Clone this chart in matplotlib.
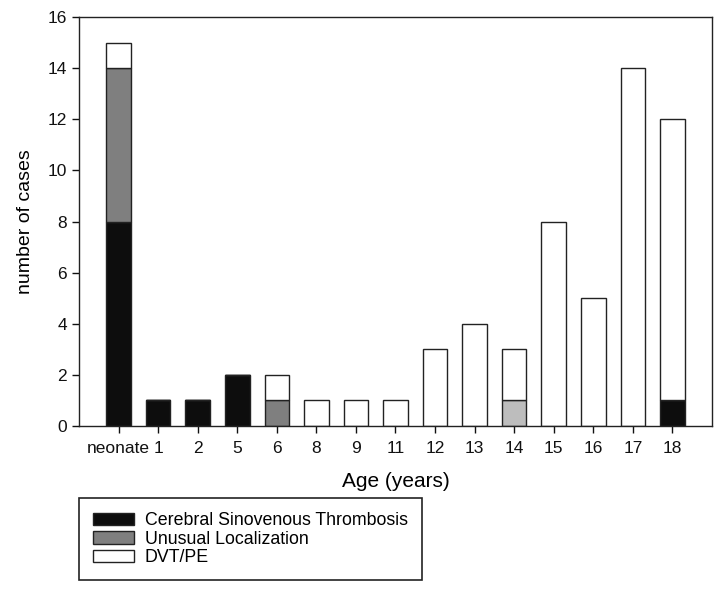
import matplotlib.pyplot as plt
import numpy as np

plt.rcParams['font.family'] = ['Liberation Sans', 'DejaVu Sans']

ages = ['neonate', '1', '2', '5', '6', '8', '9', '11', '12', '13', '14', '15', '16', '17', '18']
csvt = [8, 1, 1, 2, 0, 0, 0, 0, 0, 0, 0, 0, 0, 0, 1]
unusual = [6, 0, 0, 0, 1, 0, 0, 0, 0, 0, 1, 0, 0, 0, 0]
dvt_pe = [1, 0, 0, 0, 1, 1, 1, 1, 3, 4, 2, 8, 5, 14, 11]
# the unusual-localization segment at 14 is printed in a lighter grey
unusual_colors = ['#7f7f7f'] * 10 + ['#bdbdbd'] + ['#7f7f7f'] * 4

x = np.arange(len(ages))
csvt = np.array(csvt)
unusual = np.array(unusual)
dvt_pe = np.array(dvt_pe)

fig = plt.figure(figsize=(7.25, 5.9), dpi=100)
ax = fig.add_axes([0.109, 0.278, 0.873, 0.693])

w = 0.62
kw = dict(width=w, edgecolor='#222222', linewidth=1.0)
b1 = ax.bar(x, csvt, color='#0d0d0d', label='Cerebral Sinovenous Thrombosis', **kw)
b2 = ax.bar(x, unusual, bottom=csvt, color=unusual_colors, label='Unusual Localization', **kw)
b3 = ax.bar(x, dvt_pe, bottom=csvt + unusual, color='white', label='DVT/PE', **kw)

ax.set_xlim(-1, 15)
ax.set_ylim(0, 16)
ax.set_xticks(x)
ax.set_xticklabels(ages)
ax.set_yticks(range(0, 17, 2))
ax.tick_params(direction='out', length=5, width=1, labelsize=12.5, colors='#111111')
ax.tick_params(axis='x', pad=6)
for s in ax.spines.values():
    s.set_linewidth(1.0)
    s.set_color('#222222')

ax.set_xlabel('Age (years)', fontsize=15, labelpad=11)
ax.set_ylabel('number of cases', fontsize=14, labelpad=10)

leg = fig.legend(handles=[b1, b2, b3], loc='upper left', bbox_to_anchor=(0.109, 0.156),
                 fontsize=12.8, fancybox=False, edgecolor='#222222', framealpha=1,
                 handlelength=2.3, handleheight=0.7, labelspacing=0.08,
                 borderpad=0.8, handletextpad=0.6, borderaxespad=0)
leg.get_frame().set_linewidth(1.2)
# make the legend swatch for "Unusual Localization" plain grey
leg.legend_handles[1].set_facecolor('#7f7f7f')

fig.savefig('out.png', dpi=100)
